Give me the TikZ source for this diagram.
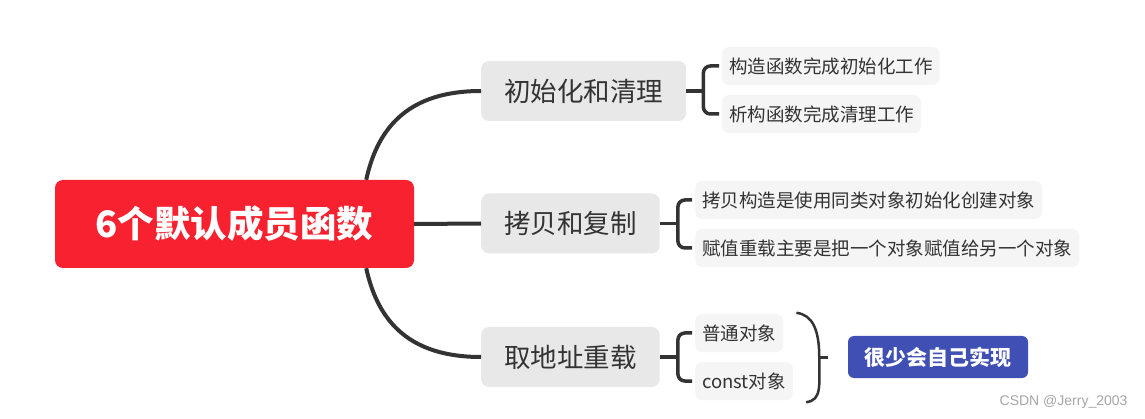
\documentclass[tikz,border=0pt]{standalone}
\usepackage{fontspec}
\setmainfont{Noto Sans CJK SC}
\newfontfamily\marksans{Liberation Sans}
\usetikzlibrary{positioning, calc}
\definecolor{rootred}{HTML}{F7212F}
\definecolor{tagblue}{HTML}{3F4FB3}
\definecolor{linegray}{HTML}{333333}
\definecolor{topicgray}{HTML}{E8E8E8}
\definecolor{leafgray}{HTML}{F5F5F5}

\begin{document}
\begin{tikzpicture}[
    x=1pt, y=-1pt,
    rootbox/.style={rectangle, fill=rootred, text=white, rounded corners=8pt, minimum width=359pt, minimum height=88pt, font=\fontsize{36.5}{40}\selectfont\bfseries},
    topic/.style={rectangle, fill=topicgray, text=linegray, rounded corners=8pt, inner xsep=23pt, minimum height=60pt, anchor=west, font=\fontsize{26.5}{30}\selectfont},
    leaf/.style={rectangle, fill=leafgray, text=linegray, rounded corners=7pt, inner xsep=7pt, minimum height=38pt, anchor=west, font=\fontsize{18.5}{22}\selectfont},
    tagbox/.style={rectangle, fill=tagblue, text=white, rounded corners=6pt, minimum width=180pt, minimum height=42pt, font=\fontsize{21}{24}\selectfont\bfseries},
    trunk/.style={draw=linegray, line width=4pt},
    brace/.style={draw=linegray, line width=3.5pt, rounded corners=7pt}
]
\fill[white] (0,0) rectangle (1145,419);
\useasboundingbox (0,0) rectangle (1145,419);

\node (root) [rootbox] at (234.5,224) {6个默认成员函数};
\node (init) [topic] at (481,91) {初始化和清理};
\node (copy) [topic] at (481,223.5) {拷贝和复制};
\node (addr) [topic] at (481,357) {取地址重载};

\node (ctor) [leaf] at (722,66) {构造函数完成初始化工作};
\node (dtor) [leaf] at (722,114) {析构函数完成清理工作};
\node (cctor) [leaf] at (695,200) {拷贝构造是使用同类对象初始化创建对象};
\node (assign) [leaf] at (695,248) {赋值重载主要是把一个对象赋值给另一个对象};
\node (plain) [leaf] at (695,333) {普通对象};
\node (cobj) [leaf] at (695,381) {const对象};

\node (rare) [tagbox] at (938,357) {很少会自己实现};
\node (mark) [anchor=east, text=gray!70, font=\marksans\fontsize{14}{16}\selectfont] at (1131,402) {CSDN @Jerry\_2003};

% trunk lines
\draw [trunk] ([xshift=-48pt]root.north east) .. controls +(12,-55) and +(-70,0) .. (init.west);
\draw [trunk] (root.east) -- (copy.west);
\draw [trunk] ([xshift=-48pt]root.south east) .. controls +(12,55) and +(-70,0) .. (addr.west);

% brackets
\coordinate (k1) at ([xshift=17pt]init.east);
\coordinate (k2) at ([xshift=18pt]copy.east);
\coordinate (k3) at ([xshift=18pt]addr.east);
\draw [brace] (init.east) -- (k1);
\draw [brace] ([xshift=-3pt]ctor.west) -| (k1) |- ([xshift=-3pt]dtor.west);
\draw [brace] (copy.east) -- (k2);
\draw [brace] ([xshift=-3pt]cctor.west) -| (k2) |- ([xshift=-3pt]assign.west);
\draw [brace] (addr.east) -- (k3);
\draw [brace] ([xshift=-3pt]plain.west) -| (k3) |- ([xshift=-3pt]cobj.west);

% summary paren
\coordinate (ptop) at ($(plain.north east)+(13,-1)$);
\coordinate (pbot) at ($(cobj.south east)+(13,2)$);
\coordinate (pmid) at ($(ptop)!0.5!(pbot)+(18,0)$);
\coordinate (pend) at ($(pmid)+(9,0)$);
\draw [draw=linegray, line width=2.5pt] (ptop) .. controls +(16,2) and +(0,-28) .. (pmid) .. controls +(0,28) and +(16,-2) .. (pbot);
\draw [draw=linegray, line width=2.5pt] (pmid) -- (pend);
\end{tikzpicture}
\end{document}
